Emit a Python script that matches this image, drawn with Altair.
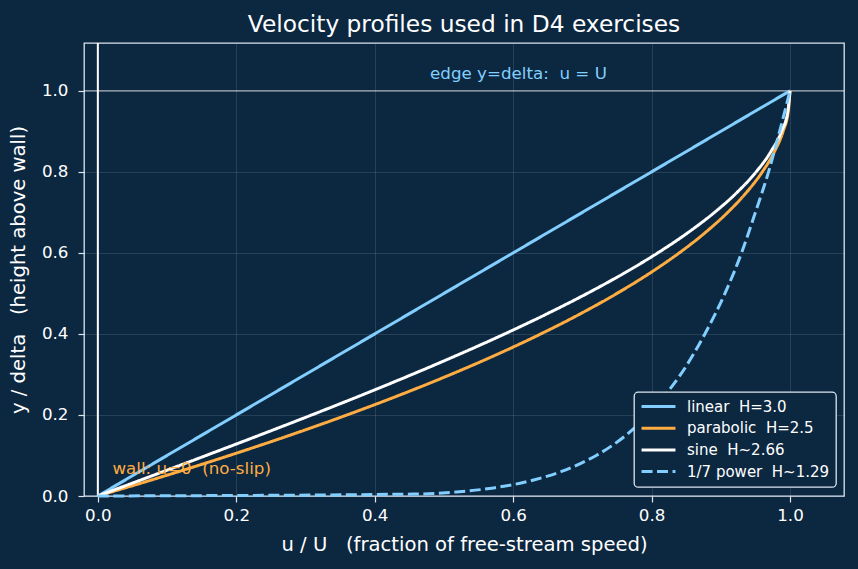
import altair as alt
import pandas as pd

# ---- data ----
series_names = ["linear\u00a0\u00a0H=3.0", "parabolic\u00a0\u00a0H=2.5", "sine\u00a0\u00a0H~2.66", "1/7 power\u00a0\u00a0H~1.29"]

linear_eta = [0.0, 1.0]
linear_u = [0.0, 1.0]

parab_eta = [0.0, 0.05, 0.1, 0.15, 0.2, 0.25, 0.3, 0.35, 0.4, 0.45, 0.5, 0.55, 0.6, 0.65, 0.7, 0.75, 0.8, 0.85, 0.9, 0.95, 1.0]
parab_u = [0.0, 0.0975, 0.19, 0.2775, 0.36, 0.4375, 0.51, 0.5775, 0.64, 0.6975, 0.75, 0.7975, 0.84, 0.8775, 0.91, 0.9375, 0.96, 0.9775, 0.99, 0.9975, 1.0]

sine_eta = [0.0, 0.05, 0.1, 0.15, 0.2, 0.25, 0.3, 0.35, 0.4, 0.45, 0.5, 0.55, 0.6, 0.65, 0.7, 0.75, 0.8, 0.85, 0.9, 0.95, 1.0]
sine_u = [0.0, 0.0785, 0.1564, 0.2334, 0.309, 0.3827, 0.454, 0.5225, 0.5878, 0.6494, 0.7071, 0.7604, 0.809, 0.8526, 0.891, 0.9239, 0.9511, 0.9724, 0.9877, 0.9969, 1.0]

power_eta = [0.0, 0.005, 0.01, 0.02, 0.04, 0.06, 0.08, 0.1, 0.15, 0.2, 0.25, 0.3, 0.4, 0.5, 0.6, 0.7, 0.8, 0.9, 1.0]
power_u = [0.0, 0.469, 0.518, 0.572, 0.631, 0.669, 0.697, 0.72, 0.763, 0.795, 0.82, 0.842, 0.877, 0.906, 0.93, 0.95, 0.969, 0.985, 1.0]

tick_values = [0, 0.2, 0.4, 0.6, 0.8, 1.0]

colors = ["#82cfff", "#ffad42", "#ffffff", "#82cfff"]
dashes = [[1, 0], [1, 0], [1, 0], [11, 4.5]]
widths = [3.0, 3.0, 3.0, 2.3]

BG = "#0c2740"
FG = "#ffffff"
FONT = "DejaVu Sans"
SP = "\u00a0"

rows = []
for name, us, etas in zip(series_names,
                          [linear_u, parab_u, sine_u, power_u],
                          [linear_eta, parab_eta, sine_eta, power_eta]):
    for i, (u, e) in enumerate(zip(us, etas)):
        rows.append({"series": name, "u": u, "eta": e, "i": i})
df = pd.DataFrame(rows)

xscale = alt.Scale(domain=[-0.02, 1.078], nice=False, zero=False)
yscale = alt.Scale(domain=[0.0, 1.118], nice=False, zero=False)

base_x = alt.X("u:Q", scale=xscale,
               axis=alt.Axis(values=tick_values, format=".1f",
                             title="u / U" + SP * 3 + "(fraction of free-stream speed)"))
base_y = alt.Y("eta:Q", scale=yscale,
               axis=alt.Axis(values=tick_values, format=".1f",
                             title="y / delta" + SP * 3 + "(height above wall)"))

wall = alt.Chart(pd.DataFrame({"u": [0.0]})).mark_rule(color="#ffffff", strokeWidth=2).encode(
    x=alt.X("u:Q", scale=xscale))
edge = alt.Chart(pd.DataFrame({"eta": [1.0]})).mark_rule(color="#ffffff", strokeWidth=1.6, opacity=0.5).encode(
    y=alt.Y("eta:Q", scale=yscale))

lines = alt.Chart(df).mark_line(interpolate="monotone").encode(
    x=base_x,
    y=base_y,
    order="i:Q",
    color=alt.Color("series:N", scale=alt.Scale(domain=series_names, range=colors),
                    sort=series_names, legend=alt.Legend(title=None)),
    strokeDash=alt.StrokeDash("series:N", scale=alt.Scale(domain=series_names, range=dashes),
                              sort=series_names, legend=alt.Legend(title=None)),
    strokeWidth=alt.StrokeWidth("series:N", scale=alt.Scale(domain=series_names, range=widths),
                                legend=None),
)

edge_text = alt.Chart(pd.DataFrame({"u": [0.48], "eta": [1.042],
                                    "t": ["edge y=delta:" + SP * 2 + "u = U"]})).mark_text(
    align="left", baseline="middle", color="#82cfff", fontSize=16.7, font=FONT).encode(
    x=alt.X("u:Q", scale=xscale), y=alt.Y("eta:Q", scale=yscale), text="t:N")
wall_text = alt.Chart(pd.DataFrame({"u": [0.021], "eta": [0.066],
                                    "t": ["wall: u=0" + SP * 2 + "(no-slip)"]})).mark_text(
    align="left", baseline="middle", color="#ffad42", fontSize=16.7, font=FONT).encode(
    x=alt.X("u:Q", scale=xscale), y=alt.Y("eta:Q", scale=yscale), text="t:N")

chart = alt.layer(wall, edge, lines, edge_text, wall_text).properties(
    width=760, height=453,
    autosize="none",
    padding={"left": 84, "top": 43, "right": 14, "bottom": 73},
    background=BG,
    title=alt.TitleParams("Velocity profiles used in D4 exercises", fontSize=23.3, color=FG,
                          font=FONT, fontWeight="normal", offset=5, anchor="middle"),
).configure_view(
    stroke="#dce6ef", strokeWidth=1.3, fill=BG
).configure_axis(
    domain=False,
    grid=True, gridColor="#ffffff", gridOpacity=0.15, gridWidth=0.8,
    tickColor="#dce6ef", tickSize=6, tickWidth=1.2,
    labelColor=FG, labelFont=FONT, labelFontSize=16.7, labelPadding=5,
    titleColor=FG, titleFont=FONT, titleFontSize=19.6, titleFontWeight="normal",
).configure_axisX(titlePadding=12).configure_axisY(labelPadding=10, titlePadding=13).configure_legend(
    orient="none", legendX=550, legendY=349,
    fillColor=BG, strokeColor="#dce6ef", strokeWidth=1.3, cornerRadius=4, padding=6,
    labelColor=FG, labelFont=FONT, labelFontSize=15,
    symbolType="stroke", symbolSize=1150, symbolStrokeWidth=3,
    clipHeight=17, rowPadding=4.7, labelOffset=10,
)

chart.save("out.html", embed_options={"renderer": "svg", "actions": False})
